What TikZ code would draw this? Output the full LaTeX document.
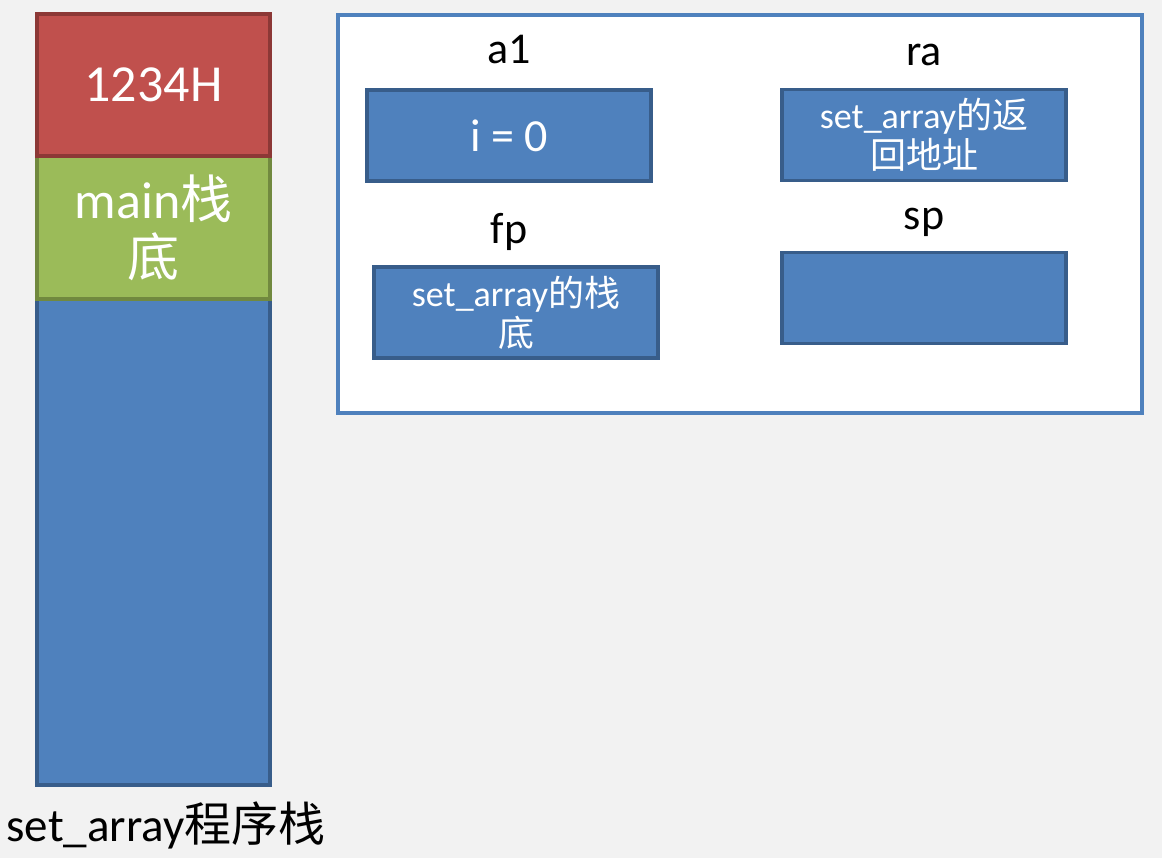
\documentclass[tikz,border=0pt]{standalone}
\usepackage{fontspec}
\setmainfont{Carlito}
\newfontfamily\cjk{Noto Sans CJK SC}
\definecolor{bg}{HTML}{F2F2F2}
\definecolor{redfill}{HTML}{C0504D}
\definecolor{redline}{HTML}{8C3836}
\definecolor{greenfill}{HTML}{9BBB59}
\definecolor{greenline}{HTML}{71893F}
\definecolor{bluefill}{HTML}{4F81BD}
\definecolor{blueline}{HTML}{385D8A}
\begin{document}
\begin{tikzpicture}[x=1pt,y=-1pt,
  cell/.style={rectangle, line width=3.5pt, inner sep=0pt, text=white, align=center},
  stackcell/.style={cell, minimum width=233pt},
  regbox/.style={cell, fill=bluefill, draw=blueline, minimum width=284pt, minimum height=91pt},
  reglabel/.style={inner sep=0pt, text=black, font=\fontsize{44}{48}\selectfont},
  bigtext/.style={font=\fontsize{52}{58}\selectfont},
  smalltext/.style={font=\fontsize{36}{40}\selectfont}
]
% canvas
\fill[bg] (0,0) rectangle (1162,858);
\useasboundingbox (0,0) rectangle (1162,858);

% stack column
\node[stackcell, fill=bluefill, draw=blueline, minimum height=486pt] (free) at (153.5,542) {};
\node[stackcell, fill=greenfill, draw=greenline, minimum height=143pt, bigtext] (mainfp) at (153.5,227.5) {main{\cjk 栈}\\{\cjk 底}};
\node[stackcell, fill=redfill, draw=redline, minimum height=142pt, bigtext] (retaddr) at (153.5,85) {1234H};
\node[inner sep=0pt, font=\fontsize{47}{52}\selectfont] (caption) at (166,825) {set\_array{\cjk 程序栈}};

% register panel
\node[rectangle, fill=white, draw=bluefill, line width=3.5pt, minimum width=804pt, minimum height=398pt] (panel) at (740,214) {};

\node[reglabel] (a1lab) at (509,50) {a1};
\node[regbox, font=\fontsize{46}{50}\selectfont] (a1) at (509,135.5) {i = 0};

\node[reglabel] (fplab) at (509,232) {fp};
\node[regbox, smalltext] (fp) at (516,312.5) {set\_array{\cjk 的栈}\\{\cjk 底}};

\node[reglabel] (ralab) at (924,55) {ra};
\node[regbox, smalltext] (ra) at (924,135) {set\_array{\cjk 的返}\\{\cjk 回地址}};

\node[reglabel] (splab) at (924,222) {sp};
\node[regbox] (sp) at (924,298) {};
\end{tikzpicture}
\end{document}
